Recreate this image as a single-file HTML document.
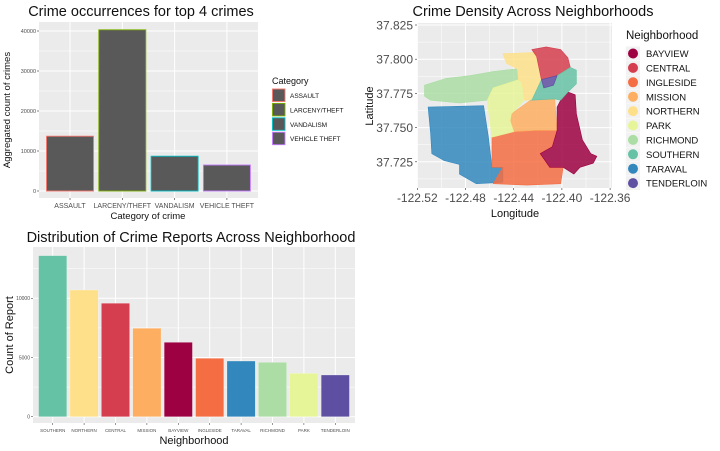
<!DOCTYPE html>
<html><head><meta charset="utf-8">
<style>
html,body{margin:0;padding:0;background:#fff;}
svg{display:block;font-family:"Liberation Sans",sans-serif;}
</style></head>
<body>
<svg id="s" width="720" height="451" viewBox="0 0 720 451"></svg>
<script>
// ---------- Chart 1 data ----------
const crimeCats = ["ASSAULT","LARCENY/THEFT","VANDALISM","VEHICLE THEFT"];
const crimeCounts = [13700, 40300, 8700, 6500];
const crimeTicks = [0,10000,20000,30000,40000];
const crimeBorder = ["#F8766D","#7CAE00","#00BFC4","#C77CFF"];
// ---------- Chart 3 data ----------
const hoods = ["SOUTHERN","NORTHERN","CENTRAL","MISSION","BAYVIEW","INGLESIDE","TARAVAL","RICHMOND","PARK","TENDERLOIN"];
const hoodCounts = [13600,10700,9580,7470,6280,4930,4700,4590,3660,3520];
const hoodTicks = [0,5000,10000];
const hoodColors = {SOUTHERN:"#66C2A5",NORTHERN:"#FEE08B",CENTRAL:"#D53E4F",MISSION:"#FDAE61",BAYVIEW:"#9E0142",INGLESIDE:"#F46D43",TARAVAL:"#3288BD",RICHMOND:"#ABDDA4",PARK:"#E6F598",TENDERLOIN:"#5E4FA2"};
// ---------- Chart 2 data ----------
const legendHoods = ["BAYVIEW","CENTRAL","INGLESIDE","MISSION","NORTHERN","PARK","RICHMOND","SOUTHERN","TARAVAL","TENDERLOIN"];
const lonTicks = [-122.52,-122.48,-122.44,-122.40,-122.36];
const latTicks = [37.725,37.750,37.775,37.800,37.825];
const regionRICHMOND = [[-122.514,37.781],[-122.496,37.786],[-122.476,37.788],[-122.457,37.791],[-122.437,37.793],[-122.436,37.785],[-122.457,37.779],[-122.462,37.770],[-122.485,37.768],[-122.509,37.770],[-122.514,37.773]];
const regionTARAVAL = [[-122.511,37.765],[-122.465,37.766],[-122.461,37.743],[-122.458,37.721],[-122.449,37.721],[-122.449,37.710],[-122.471,37.709],[-122.485,37.716],[-122.485,37.723],[-122.498,37.726],[-122.508,37.731],[-122.509,37.746]];
const regionINGLESIDE = [[-122.458,37.743],[-122.440,37.747],[-122.421,37.748],[-122.404,37.748],[-122.408,37.736],[-122.418,37.731],[-122.410,37.721],[-122.399,37.721],[-122.401,37.709],[-122.429,37.708],[-122.457,37.709],[-122.449,37.721],[-122.458,37.721]];
const regionMISSION = [[-122.442,37.760],[-122.426,37.770],[-122.406,37.771],[-122.404,37.748],[-122.421,37.748],[-122.440,37.747],[-122.443,37.755]];
const regionBAYVIEW = [[-122.404,37.765],[-122.401,37.770],[-122.395,37.776],[-122.389,37.774],[-122.388,37.760],[-122.383,37.741],[-122.376,37.731],[-122.371,37.729],[-122.374,37.724],[-122.385,37.721],[-122.390,37.716],[-122.399,37.721],[-122.410,37.721],[-122.418,37.731],[-122.408,37.736],[-122.404,37.748]];
const regionPARK = [[-122.457,37.779],[-122.436,37.785],[-122.433,37.783],[-122.431,37.770],[-122.442,37.760],[-122.443,37.755],[-122.440,37.747],[-122.458,37.743],[-122.461,37.763],[-122.462,37.770]];
const regionNORTHERN = [[-122.449,37.804],[-122.422,37.805],[-122.421,37.802],[-122.417,37.785],[-122.425,37.770],[-122.431,37.770],[-122.433,37.783],[-122.436,37.785],[-122.437,37.793],[-122.446,37.797]];
const regionCENTRAL = [[-122.425,37.807],[-122.413,37.809],[-122.401,37.807],[-122.395,37.801],[-122.393,37.794],[-122.404,37.788],[-122.417,37.785],[-122.421,37.802]];
const regionTENDERLOIN = [[-122.417,37.785],[-122.404,37.788],[-122.407,37.781],[-122.415,37.779]];
const regionSOUTHERN = [[-122.404,37.788],[-122.393,37.794],[-122.388,37.792],[-122.388,37.782],[-122.395,37.776],[-122.401,37.770],[-122.406,37.771],[-122.426,37.770],[-122.425,37.770],[-122.417,37.785],[-122.415,37.779],[-122.407,37.781]];

const S = document.getElementById('s');
const NS = "http://www.w3.org/2000/svg";
function mk(tag, attrs, parent){const e=document.createElementNS(NS,tag);for(const k in attrs)e.setAttribute(k,attrs[k]);(parent||S).appendChild(e);return e;}
function txt(x,y,str,size,fill,anchor,extra){const t=mk('text',Object.assign({x:x,y:y,'font-size':size,fill:fill,'text-anchor':anchor||'start'},extra||{}));t.textContent=str;return t;}

// ========== Chart 1 ==========
(function(){
  const L=39,R=258,T=22,B=198;
  const y=v=>191-v*0.004;
  const bw=52.3;
  const x=i=>70+i*bw;
  const g=mk('g',{});  
  const p=mk('rect',{x:L,y:T,width:R-L,height:B-T,fill:'#EBEBEB'},g);  
  for(let i=0;i<crimeTicks.length-1;i++){const v=(crimeTicks[i]+crimeTicks[i+1])/2;mk('line',{x1:L,x2:R,y1:y(v),y2:y(v),stroke:'#fff','stroke-width':0.5},g);}
  crimeTicks.forEach(v=>{mk('line',{x1:L,x2:R,y1:y(v),y2:y(v),stroke:'#fff','stroke-width':1},g);
    mk('line',{x1:L-2,x2:L,y1:y(v),y2:y(v),stroke:'#333','stroke-width':0.6},g);
    const t=txt(L-3,y(v)+2,String(v),5.5,'#4D4D4D','end',{});g.appendChild(t);});
  crimeCats.forEach((c,i)=>{mk('line',{x1:x(i),x2:x(i),y1:T,y2:B,stroke:'#fff','stroke-width':1},g);});
  crimeCats.forEach((c,i)=>{
    const r=mk('rect',{x:x(i)-23.5,y:y(crimeCounts[i]),width:47,height:y(0)-y(crimeCounts[i]),fill:'#595959',stroke:crimeBorder[i],'stroke-width':0.9},g);
    
    
    mk('line',{x1:x(i),x2:x(i),y1:B,y2:B+2,stroke:'#333','stroke-width':0.6},g);
    const t=txt(x(i),208,c,7,'#4D4D4D','middle');g.appendChild(t);
  });
  let t=txt(141,16,'Crime occurrences for top 4 crimes',14.5,'#111','middle');
  t=txt(148,219,'Category of crime',9.5,'#111','middle');
  t=txt(0,0,'Aggregated count of crimes',9.5,'#111','middle',{transform:'translate(10,110) rotate(-90)'});
  t=txt(272,84,'Category',9,'#111','start');
  crimeCats.forEach((c,i)=>{const yy=89+i*14.4;
    const k=mk('rect',{x:272.5,y:yy,width:12.5,height:12.5,fill:'#595959',stroke:crimeBorder[i],'stroke-width':0.9});
    const l=txt(290,yy+9,c,6.5,'#111','start');});
})();

// ========== Chart 2 ==========
(function(){
  const L=417,R=612,T=23,B=188;
  const x=v=>417.3+(v+122.52)/0.04*48.2;
  const y=v=>25+(37.825-v)/0.025*34.2;
  const g=mk('g',{});
  const p=mk('rect',{x:L,y:T,width:R-L,height:B-T,fill:'#EBEBEB'},g);
  for(let i=0;i<lonTicks.length-1;i++){const v=(lonTicks[i]+lonTicks[i+1])/2;mk('line',{x1:x(v),x2:x(v),y1:T,y2:B,stroke:'#fff','stroke-width':0.5},g);}
  for(let i=0;i<latTicks.length-1;i++){const v=(latTicks[i]+latTicks[i+1])/2;mk('line',{x1:L,x2:R,y1:y(v),y2:y(v),stroke:'#fff','stroke-width':0.5},g);}
  mk('line',{x1:L,x2:R,y1:y(37.7125),y2:y(37.7125),stroke:'#fff','stroke-width':0.5},g);
  lonTicks.forEach(v=>{mk('line',{x1:x(v),x2:x(v),y1:T,y2:B,stroke:'#fff','stroke-width':1},g);
    mk('line',{x1:x(v),x2:x(v),y1:B,y2:B+2,stroke:'#333','stroke-width':0.6},g);
    const t=txt(x(v),202,v.toFixed(2),12,'#4D4D4D','middle');g.appendChild(t);});
  latTicks.forEach(v=>{mk('line',{x1:L,x2:R,y1:y(v),y2:y(v),stroke:'#fff','stroke-width':1},g);
    mk('line',{x1:L-2,x2:L,y1:y(v),y2:y(v),stroke:'#333','stroke-width':0.6},g);
    const t=txt(L-4,y(v)+4.5,v.toFixed(3),12,'#4D4D4D','end');g.appendChild(t);});
  const regions={RICHMOND:regionRICHMOND,TARAVAL:regionTARAVAL,INGLESIDE:regionINGLESIDE,MISSION:regionMISSION,BAYVIEW:regionBAYVIEW,PARK:regionPARK,NORTHERN:regionNORTHERN,CENTRAL:regionCENTRAL,SOUTHERN:regionSOUTHERN,TENDERLOIN:regionTENDERLOIN};
  for(const n in regions){
    const pts=regions[n].map(p=>x(p[0]).toFixed(1)+','+y(p[1]).toFixed(1)).join(' ');
    const pg=mk('polygon',{points:pts,fill:hoodColors[n],'fill-opacity':0.85,stroke:hoodColors[n],'stroke-width':0.6,'stroke-linejoin':'round'},g);
    
    
  }
  let t=txt(533,16,'Crime Density Across Neighborhoods',14.5,'#111','middle');
  t=txt(515,217,'Longitude',11,'#111','middle');
  t=txt(0,0,'Latitude',11,'#111','middle',{transform:'translate(373,106) rotate(-90)'});
  t=txt(626,39,'Neighborhood',11.5,'#111','start');
  legendHoods.forEach((n,i)=>{const yy=53.5+i*14.4;
    mk('rect',{x:626,y:yy-7,width:14,height:14,fill:'#F2F2F2'});
    const c=mk('circle',{cx:633,cy:yy,r:5,fill:hoodColors[n]});
    const l=txt(646,yy+3.6,n,9.5,'#111','start');});
})();

// ========== Chart 3 ==========
(function(){
  const L=33,R=355,T=247,B=423;
  const y=v=>416.7-v*(118.4/10000);
  const bw=31.4;
  const x=i=>52.7+i*bw;
  const g=mk('g',{});
  const p=mk('rect',{x:L,y:T,width:R-L,height:B-T,fill:'#EBEBEB'},g);
  [2500,7500,12500].forEach(v=>mk('line',{x1:L,x2:R,y1:y(v),y2:y(v),stroke:'#fff','stroke-width':0.5},g));
  hoodTicks.forEach(v=>{mk('line',{x1:L,x2:R,y1:y(v),y2:y(v),stroke:'#fff','stroke-width':1},g);
    mk('line',{x1:L-2,x2:L,y1:y(v),y2:y(v),stroke:'#333','stroke-width':0.5},g);
    const t=txt(L-3,y(v)+1.8,String(v),5,'#4D4D4D','end');g.appendChild(t);});
  hoods.forEach((n,i)=>mk('line',{x1:x(i),x2:x(i),y1:T,y2:B,stroke:'#fff','stroke-width':1},g));
  hoods.forEach((n,i)=>{
    const r=mk('rect',{x:x(i)-14.1,y:y(hoodCounts[i]),width:28.2,height:y(0)-y(hoodCounts[i]),fill:hoodColors[n],stroke:'#fff','stroke-width':0.4,'stroke-opacity':0.5},g);
    
    
    mk('line',{x1:x(i),x2:x(i),y1:B,y2:B+2,stroke:'#333','stroke-width':0.5},g);
    const t=txt(x(i),432,n,4.5,'#4D4D4D','middle');g.appendChild(t);
  });
  let t=txt(191,242,'Distribution of Crime Reports Across Neighborhood',14.5,'#111','middle');
  t=txt(194,444,'Neighborhood',11,'#111','middle');
  t=txt(0,0,'Count of Report',11,'#111','middle',{transform:'translate(13,335) rotate(-90)'});
})();
</script>
</body></html>
